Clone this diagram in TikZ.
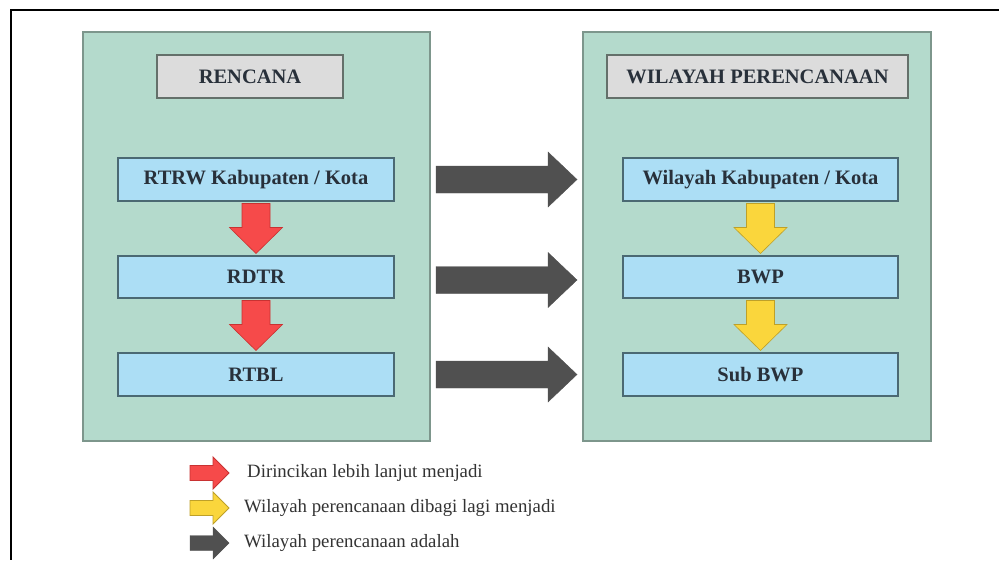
\documentclass[tikz,border=0pt]{standalone}
\usepackage{fontspec}
\setmainfont{Liberation Serif}
\usetikzlibrary{calc}
\definecolor{grn}{RGB}{180,218,204}
\definecolor{grnb}{RGB}{125,150,140}
\definecolor{blu}{RGB}{172,222,245}
\definecolor{blub}{RGB}{75,105,115}
\definecolor{gry}{RGB}{220,220,220}
\definecolor{gryb}{RGB}{100,112,106}
\definecolor{txt}{RGB}{40,48,58}
\definecolor{redA}{RGB}{246,74,74}
\definecolor{redB}{RGB}{200,50,50}
\definecolor{yelA}{RGB}{250,214,60}
\definecolor{yelB}{RGB}{190,160,40}
\definecolor{drk}{RGB}{80,80,80}
\tikzset{
  panel/.style={draw=grnb, fill=grn, line width=1.2pt, inner sep=0pt, outer sep=0pt},
  hdr/.style={draw=gryb, fill=gry, line width=1.2pt, inner sep=0pt, outer sep=0pt,
    font=\fontsize{20.5}{22}\selectfont\bfseries, text=txt},
  itembox/.style={draw=blub, fill=blu, line width=1.2pt, inner sep=0pt, outer sep=0pt,
    font=\fontsize{20.5}{22}\selectfont\bfseries, text=txt},
  downarrow/.pic={
    \path[pic actions] (-14,-25) -- (14,-25) -- (14,-1) -- (26.5,-1) -- (0,25)
      -- (-26.5,-1) -- (-14,-1) -- cycle;},
  rightarrow/.pic={
    \path[pic actions] (-70.5,-13.5) -- (41.5,-13.5) -- (41.5,-27.5) -- (70.5,0)
      -- (41.5,27.5) -- (41.5,13.5) -- (-70.5,13.5) -- cycle;},
  legendarrow/.pic={
    \path[pic actions] (-19.5,-7.5) -- (3.5,-7.5) -- (3.5,-16) -- (19.5,0)
      -- (3.5,16) -- (3.5,7.5) -- (-19.5,7.5) -- cycle;},
  redfill/.style={fill=redA, draw=redB, line width=0.6pt, line join=miter},
  yelfill/.style={fill=yelA, draw=yelB, line width=0.6pt, line join=miter},
  drkfill/.style={fill=drk, draw=drk, line width=0.4pt, line join=miter},
  legtext/.style={anchor=west, inner sep=0pt, font=\fontsize{18.8}{20}\selectfont, text=black!80}
}
\begin{document}
\begin{tikzpicture}[x=1pt,y=-1pt]
\useasboundingbox (0,0) rectangle (999,560);
\fill[white] (0,0) rectangle (999,560);
% frame
\draw[line width=2pt] (999,10) -- (11,10) -- (11,560);
% panels
\node[panel, minimum width=347pt, minimum height=409pt] (lp) at (256.5,236.5) {};
\node[panel, minimum width=348pt, minimum height=409pt] (rp) at (757,236.5) {};
% headers
\node[hdr, minimum width=186pt, minimum height=43pt] (lh) at (250,76.5) {RENCANA};
\node[hdr, minimum width=301pt, minimum height=43pt] (rh) at (757.5,76.5) {WILAYAH PERENCANAAN};
% left items
\node[itembox, minimum width=276pt, minimum height=43pt] (l1) at (256,179.5) {RTRW Kabupaten / Kota};
\node[itembox, minimum width=276pt, minimum height=42pt] (l2) at (256,277) {RDTR};
\node[itembox, minimum width=276pt, minimum height=43pt] (l3) at (256,374.5) {RTBL};
% right items
\node[itembox, minimum width=275pt, minimum height=43pt] (r1) at (760.5,179.5) {Wilayah Kabupaten / Kota};
\node[itembox, minimum width=275pt, minimum height=42pt] (r2) at (760.5,277) {BWP};
\node[itembox, minimum width=275pt, minimum height=43pt] (r3) at (760.5,374.5) {Sub BWP};
% down arrows
\coordinate (a1) at ($(l1.south)!0.5!(l2.north)$);
\coordinate (a2) at ($(l2.south)!0.5!(l3.north)$);
\coordinate (b1) at ($(r1.south)!0.5!(r2.north)$);
\coordinate (b2) at ($(r2.south)!0.5!(r3.north)$);
\pic[redfill] at (a1) {downarrow};
\pic[redfill] at (a2) {downarrow};
\pic[yelfill] at (b1) {downarrow};
\pic[yelfill] at (b2) {downarrow};
% right arrows
\coordinate (c1) at ($(lp.east|-l1)!0.5!(rp.west|-l1)$);
\coordinate (c2) at ($(lp.east|-l2)!0.5!(rp.west|-l2)+(0,3)$);
\coordinate (c3) at ($(lp.east|-l3)!0.5!(rp.west|-l3)$);
\pic[drkfill] at (c1) {rightarrow};
\pic[drkfill] at (c2) {rightarrow};
\pic[drkfill] at (c3) {rightarrow};
% legend
\coordinate (k1) at (209.5,473);
\coordinate (k2) at (209.5,508);
\coordinate (k3) at (209.5,543);
\pic[redfill, line width=0.9pt] at (k1) {legendarrow};
\pic[yelfill, line width=0.9pt] at (k2) {legendarrow};
\pic[drkfill] at (k3) {legendarrow};
\node[legtext] (t1) at (247,473) {Dirincikan lebih lanjut menjadi};
\node[legtext] (t2) at (244,508) {Wilayah perencanaan dibagi lagi menjadi};
\node[legtext] (t3) at (244,543) {Wilayah perencanaan adalah};
\end{tikzpicture}
\end{document}
